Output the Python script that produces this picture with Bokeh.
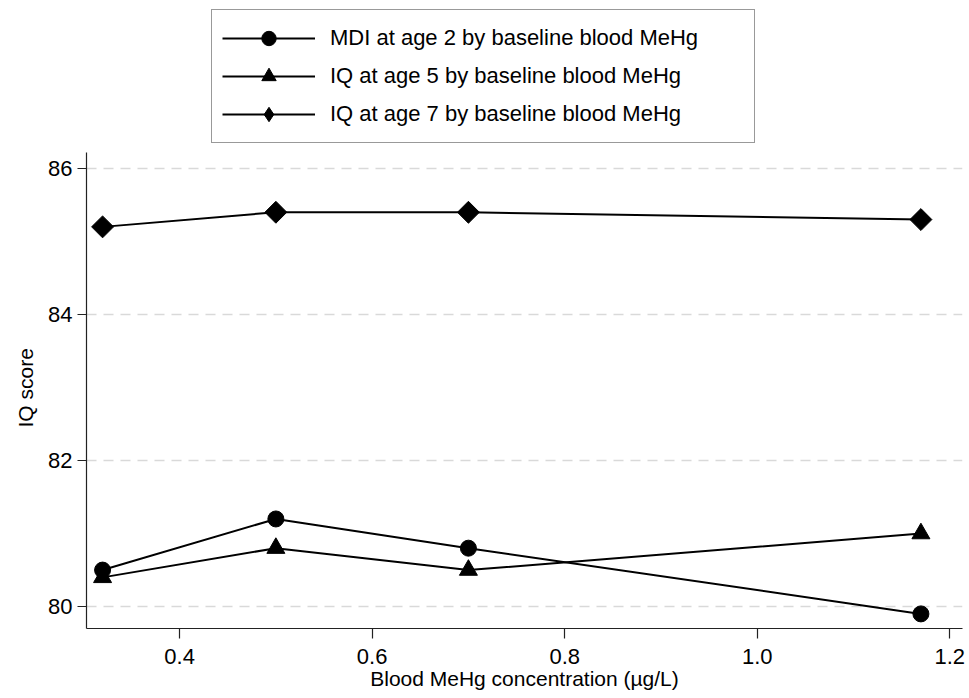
import math
from bokeh.plotting import figure
from bokeh.models import Legend, LegendItem, FixedTicker, PrintfTickFormatter, Range1d, Title
from bokeh.embed import file_html
from bokeh.resources import INLINE

# ---- data ----
blood_mehg = [0.32, 0.5, 0.7, 1.17]
mdi_age2 = [80.5, 81.2, 80.8, 79.9]
iq_age5 = [80.4, 80.8, 80.5, 81.0]
iq_age7 = [85.2, 85.4, 85.4, 85.3]
series_labels = [
    "MDI at age 2 by baseline blood MeHg",
    "IQ at age 5 by baseline blood MeHg",
    "IQ at age 7 by baseline blood MeHg",
]
x_ticks = [0.4, 0.6, 0.8, 1.0, 1.2]
y_ticks = [80, 82, 84, 86]
x_title = "Blood MeHg concentration (µg/L)"
y_title = "IQ score"

FONT = "Liberation Sans"
Y_LO, Y_HI = 79.70, 86.215   # visible axis extent
Y_TOP = 88.30                # frame extends up to hold the legend

p = figure(width=966, height=696, output_backend="svg", toolbar_location=None,
           x_range=Range1d(0.3033, 1.2132), y_range=Range1d(Y_LO, Y_TOP),
           min_border_left=86, min_border_right=4, min_border_top=0,
           min_border_bottom=68)
p.background_fill_color = "white"
p.border_fill_color = "white"
p.outline_line_color = None

lw = 2
r1l = p.line(blood_mehg, mdi_age2, line_color="black", line_width=lw)
r1m = p.scatter(blood_mehg, mdi_age2, marker="circle", size=16, color="black")
r2l = p.line(blood_mehg, iq_age5, line_color="black", line_width=lw)
r2m = p.scatter(blood_mehg, iq_age5, marker="triangle", size=18, color="black")
r3l = p.line(blood_mehg, iq_age7, line_color="black", line_width=lw)
r3m = p.scatter(blood_mehg, iq_age7, marker="square", angle=math.pi / 4, size=15.5, color="black")
# diamond used only for the legend key (legend keys ignore marker angle)
r3k = p.scatter(blood_mehg, iq_age7, marker="diamond", size=22, color="black", visible=False)

# axes
for ax in (p.xaxis[0], p.yaxis[0]):
    ax.axis_line_color = "#222222"
    ax.axis_line_width = 1.2
    ax.major_tick_line_color = "#222222"
    ax.major_tick_line_width = 1.2
    ax.minor_tick_line_color = None
    ax.major_tick_in = 0
    ax.major_label_text_font = FONT
    ax.major_label_text_color = "black"
    ax.axis_label_text_font = FONT
    ax.axis_label_text_font_style = "normal"
    ax.axis_label_text_color = "black"

p.xaxis.ticker = FixedTicker(ticks=x_ticks)
p.xaxis.formatter = PrintfTickFormatter(format="%.1f")
p.xaxis.major_tick_out = 10
p.xaxis.major_label_standoff = 10
p.xaxis.major_label_text_font_size = "22px"
p.xaxis.axis_label = x_title
p.xaxis.axis_label_text_font_size = "21px"
p.xaxis.axis_label_standoff = 0

p.yaxis.ticker = FixedTicker(ticks=y_ticks)
p.yaxis.bounds = (Y_LO, Y_HI)
p.yaxis.major_tick_out = 9
p.yaxis.major_label_standoff = 5
p.yaxis.major_label_text_font_size = "22px"

# y-axis title placed along the visible axis, not the whole frame
ytitle = Title(text=y_title, align="left", offset=201, standoff=14,
               vertical_align="top",
               text_font=FONT, text_font_size="21px", text_font_style="normal",
               text_color="black")
p.add_layout(ytitle, "left")

p.xgrid.grid_line_color = None
p.ygrid.ticker = FixedTicker(ticks=y_ticks)
p.ygrid.grid_line_color = "#d9d9d9"
p.ygrid.grid_line_width = 1.5
p.ygrid.grid_line_dash = "10 7"

legend = Legend(items=[
    LegendItem(label=series_labels[0], renderers=[r1l, r1m]),
    LegendItem(label=series_labels[1], renderers=[r2l, r2m]),
    LegendItem(label=series_labels[2], renderers=[r3l, r3k]),
], location=(125, 485))
legend.label_text_font = FONT
legend.label_text_font_size = "22px"
legend.label_text_color = "black"
legend.glyph_width = 93
legend.glyph_height = 36
legend.label_height = 20
legend.label_width = 414
legend.label_standoff = 15
legend.spacing = 2
legend.padding = 10
legend.margin = 0
legend.border_line_color = "#333333"
legend.border_line_width = 1.2
legend.background_fill_color = "white"
legend.background_fill_alpha = 1
p.add_layout(legend)

open("out.html", "w").write(file_html(p, INLINE))
